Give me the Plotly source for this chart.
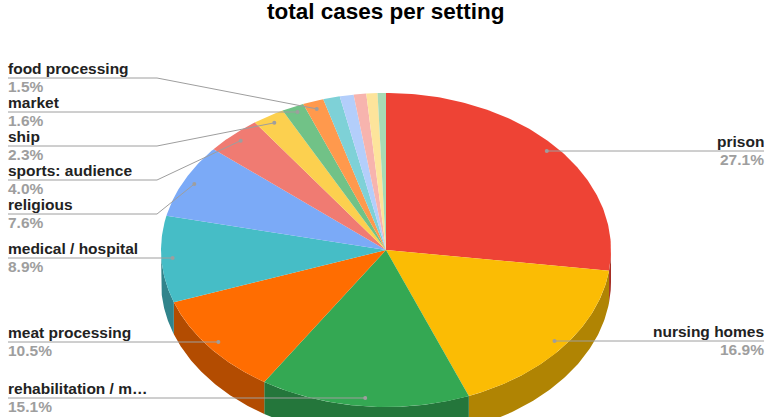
import numpy as np
import plotly.graph_objects as go

categories = ["prison", "nursing homes", "rehabilitation / m…", "meat processing",
              "medical / hospital", "religious", "sports: audience", "ship",
              "market", "food processing", "other a", "other b", "other c", "other d", "other e"]
shares = [27.1, 16.9, 15.1, 10.5, 8.9, 7.6, 4.0, 2.3, 1.6, 1.5, 1.2, 1.0, 0.9, 0.8, 0.6]
colors = ["#EE4335", "#FBBC04", "#34A853", "#FF6D01", "#46BDC6", "#7BAAF7", "#F07B72",
          "#FCD04F", "#71C287", "#FF994D", "#7ED1D7", "#B3CEFB", "#F7B4AE", "#FDE49B", "#A8DAB5"]
side_colors = ["#A62E25", "#B08403", "#24763B", "#B34C01", "#31848B"]

# pixel layout of the tilted pie
CX, CY, RX, RY, DEPTH = 386, 250, 225, 157, 32
ANCHOR = 0.95
# label layout: index -> (line y, side, elbow x)
label_lines = {0: (151, "r", None), 1: (341, "r", None), 2: (398, "l", None),
               3: (342, "l", None), 4: (258, "l", None), 5: (214, "l", 157),
               6: (180, "l", 157), 7: (146, "l", 157), 8: (112, "l", None),
               9: (78, "l", 157)}
LEFT_X, RIGHT_X = 8, 764
LINE = "#9E9E9E"


def pt(theta, k=1.0, dy=0.0):
    return CX + k * RX * np.sin(theta), CY - k * RY * np.cos(theta) + dy


fig = go.Figure()
total = sum(shares)
edges = np.concatenate([[0], np.cumsum(shares)]) / total * 2 * np.pi


def poly(x, y, color):
    fig.add_trace(go.Scatter(x=x, y=y, mode="lines", fill="toself", fillcolor=color,
                             line=dict(width=0, color=color), hoverinfo="skip", showlegend=False))


# side wall (only the front half of the rim faces the viewer)
for i in range(len(shares)):
    a = max(edges[i], np.pi / 2)
    b = min(edges[i + 1], 3 * np.pi / 2)
    if b <= a:
        continue
    t = np.linspace(a, b, 80)
    x, y = pt(t)
    x2, y2 = pt(t[::-1], dy=DEPTH)
    poly(np.concatenate([x, x2]), np.concatenate([y, y2]), side_colors[i])

# top face
for i in range(len(shares)):
    t = np.linspace(edges[i], edges[i + 1], 120)
    x, y = pt(t)
    poly(np.concatenate([[CX], x, [CX]]), np.concatenate([[CY], y, [CY]]), colors[i])

# leaders and labels
ann = []
for i, (ly, side, elbow) in label_lines.items():
    mid = (edges[i] + edges[i + 1]) / 2
    ax, ay = pt(mid, k=ANCHOR)
    start = LEFT_X if side == "l" else RIGHT_X
    xs = [start] + ([elbow] if elbow else []) + [float(ax)]
    ys = [ly] + ([ly] if elbow else []) + [float(ay) if elbow else ly]
    fig.add_trace(go.Scatter(x=xs, y=ys, mode="lines", line=dict(color=LINE, width=1),
                             hoverinfo="skip", showlegend=False))
    fig.add_trace(go.Scatter(x=[xs[-1]], y=[ys[-1]], mode="markers",
                             marker=dict(color=LINE, size=4), hoverinfo="skip", showlegend=False))
    anchor = "left" if side == "l" else "right"
    ann.append(dict(x=start, y=ly - 1, text=categories[i], xanchor=anchor, yanchor="bottom",
                    showarrow=False, borderpad=0, borderwidth=0,
                    font=dict(family="Liberation Sans", size=15.5, color="#222222", weight="bold")))
    ann.append(dict(x=start, y=ly, text=f"{shares[i]:.1f}%", xanchor=anchor, yanchor="top",
                    showarrow=False, borderpad=0, borderwidth=0,
                    font=dict(family="Liberation Sans", size=15.5, color="#9E9E9E", weight="bold")))

ann.append(dict(x=386, y=11, text="total cases per setting", xanchor="center", yanchor="middle",
                showarrow=False,
                font=dict(family="Liberation Sans", size=22.5, color="#000000", weight="bold")))

fig.update_layout(
    width=771, height=417, margin=dict(l=0, r=0, t=0, b=0),
    paper_bgcolor="white", plot_bgcolor="white", showlegend=False, annotations=ann,
    xaxis=dict(range=[0, 771], visible=False, fixedrange=True),
    yaxis=dict(range=[417, 0], visible=False, fixedrange=True),
)
fig.write_html("out.html", config=dict(displayModeBar=False),
               post_script="document.body.style.margin='0';document.body.style.overflow='hidden';")
